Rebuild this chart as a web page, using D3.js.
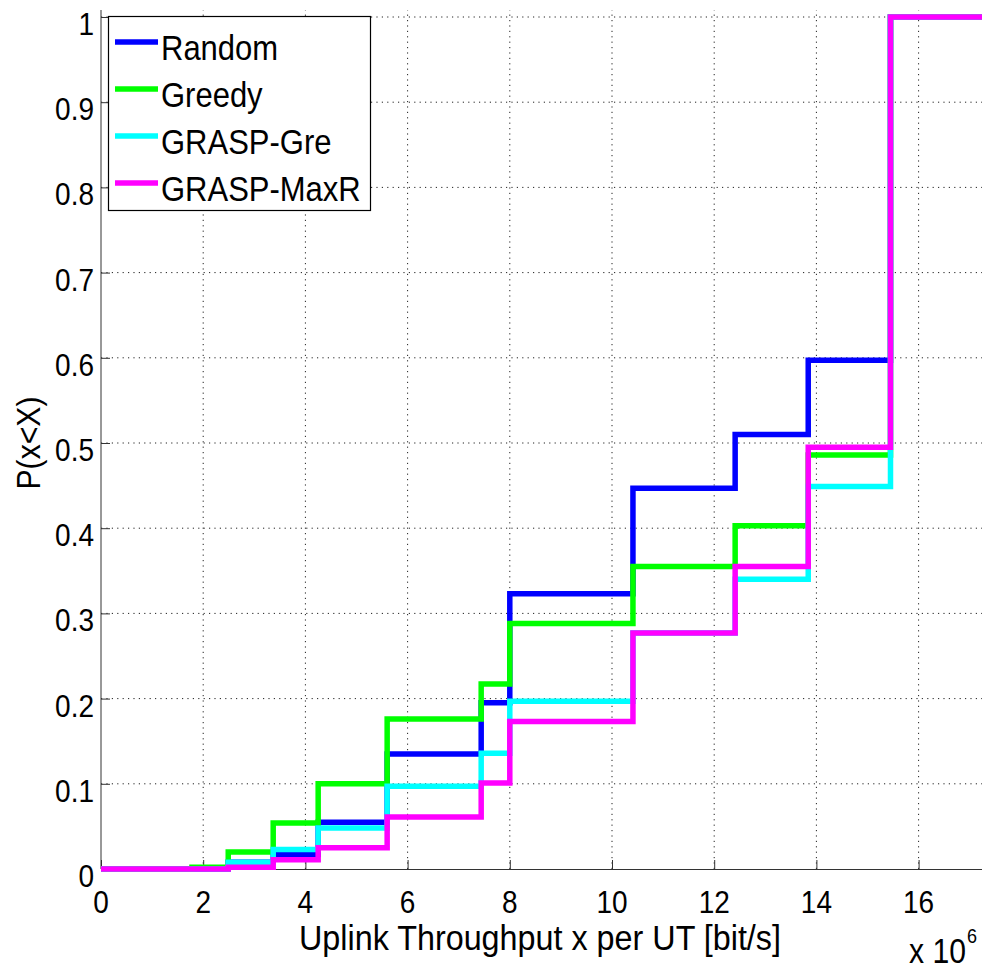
<!DOCTYPE html>
<html><head><meta charset="utf-8">
<script src="https://cdn.jsdelivr.net/npm/d3@7"></script>
<style>
html,body{margin:0;padding:0;background:#fff;}
svg{display:block;}
text{font-family:"Liberation Sans",Arial,Helvetica,sans-serif;fill:#000;}
</style></head>
<body>
<svg id="chart" width="982" height="969"></svg>
<script>
// ---- data ----
const stepX = [0, 1.78, 2.49, 3.37, 4.25, 5.6, 7.44, 8.0, 10.41, 12.41, 13.84, 15.45];
const seriesNames = ["Random", "Greedy", "GRASP-Gre", "GRASP-MaxR"];
const randomVals  = [0, 0.0, 0.008, 0.017, 0.055, 0.135, 0.195, 0.323, 0.447, 0.510, 0.597, 1.0];
const greedyVals  = [0, 0.002, 0.020, 0.054, 0.100, 0.176, 0.217, 0.288, 0.355, 0.403, 0.486, 1.0];
const graspGreVals= [0, 0.0, 0.008, 0.023, 0.048, 0.097, 0.136, 0.197, 0.277, 0.340, 0.449, 1.0];
const graspMaxVals= [0, 0.0, 0.002, 0.011, 0.025, 0.061, 0.101, 0.173, 0.277, 0.355, 0.495, 1.0];
const seriesColors = ["#0000ff", "#00ff00", "#00ffff", "#ff00ff"];
const xTicks = [0, 2, 4, 6, 8, 10, 12, 14, 16];
const yTicks = [0, 0.1, 0.2, 0.3, 0.4, 0.5, 0.6, 0.7, 0.8, 0.9, 1];
const yTickLabels = ["0", "0.1", "0.2", "0.3", "0.4", "0.5", "0.6", "0.7", "0.8", "0.9", "1"];
const xMax = 17.25;

// ---- chart ----
(function () {
const svg = d3.select("#chart");
const plotL = 101, plotB = 869, plotT = 10;
const x = d3.scaleLinear().domain([0, xMax]).range([plotL, plotL + 51.1 * xMax]);
const y = d3.scaleLinear().domain([0, 1]).range([plotB, 17]);
const SY = 1.13;

// grid
const grid = svg.append("g").attr("stroke", "#222").attr("stroke-width", 1).attr("stroke-dasharray", "1.2,4.2");
grid.selectAll("line.v").data(xTicks.filter(d => d > 0)).enter().append("line")
  .attr("x1", d => x(d)).attr("x2", d => x(d)).attr("y1", plotB).attr("y2", plotT);
grid.selectAll("line.h").data(yTicks.filter(d => d > 0)).enter().append("line")
  .attr("x1", plotL).attr("x2", 982).attr("y1", d => y(d)).attr("y2", d => y(d));

// axes (ticks inward)
const xAxis = d3.axisBottom(x).tickValues(xTicks).tickSizeInner(-9).tickSizeOuter(0).tickFormat("");
const gx = svg.append("g").attr("transform", `translate(0,${plotB})`).call(xAxis);
gx.select(".domain").attr("stroke", "#333");
gx.selectAll(".tick line").attr("stroke", "#333");
const yAxis = d3.axisLeft(y).tickValues(yTicks).tickSizeInner(-9).tickSizeOuter(0).tickFormat("");
const gy = svg.append("g").attr("transform", `translate(${plotL},0)`).call(yAxis);
gy.select(".domain").remove();
gy.selectAll(".tick line").attr("stroke", "#333");
svg.append("line").attr("x1", plotL).attr("x2", plotL).attr("y1", plotB).attr("y2", plotT).attr("stroke", "#333");

// tick labels
svg.append("g").selectAll("text").data(xTicks).enter().append("text")
  .attr("transform", d => `translate(${x(d)},913) scale(1,${SY})`)
  .attr("text-anchor", "middle").attr("font-size", 28).text(d => d);
svg.append("g").selectAll("text").data(yTicks).enter().append("text")
  .attr("transform", d => `translate(94,${y(d) + 18}) scale(1,${SY})`)
  .attr("text-anchor", "end").attr("font-size", 28).text((d, i) => yTickLabels[i]);

// series
const allVals = [randomVals, greedyVals, graspGreVals, graspMaxVals];
const line = d3.line().x(d => x(d[0])).y(d => y(d[1])).curve(d3.curveStepAfter);
allVals.forEach((vals, i) => {
  const pts = stepX.map((sx, k) => [sx, vals[k]]);
  pts.push([xMax, vals[vals.length - 1]]);
  svg.append("path").datum(pts).attr("d", line)
    .attr("fill", "none").attr("stroke", seriesColors[i]).attr("stroke-width", 5.5)
    .attr("stroke-linejoin", "miter");
});

// axis labels
svg.append("text").attr("transform", `translate(540,950) scale(1,${SY})`)
  .attr("text-anchor", "middle").attr("font-size", 31)
  .attr("textLength", 482).attr("lengthAdjust", "spacingAndGlyphs")
  .text("Uplink Throughput x per UT [bit/s]");
svg.append("text").attr("transform", `translate(40,443) rotate(-90) scale(1,${SY})`)
  .attr("text-anchor", "middle").attr("font-size", 29)
  .attr("textLength", 93).attr("lengthAdjust", "spacingAndGlyphs")
  .text("P(x<X)");
svg.append("text").attr("transform", `translate(909,963) scale(1,${SY})`)
  .attr("font-size", 31).attr("textLength", 57).attr("lengthAdjust", "spacingAndGlyphs").text("x 10");
svg.append("text").attr("transform", `translate(967,943) scale(1,${SY})`)
  .attr("font-size", 18).text("6");

// legend
const lg = svg.append("g");
lg.append("rect").attr("x", 108.5).attr("y", 16.5).attr("width", 262).attr("height", 194)
  .attr("fill", "#fff").attr("stroke", "#000").attr("stroke-width", 1.2);
const rowY = d3.scalePoint().domain(seriesNames).range([42, 183]);
seriesNames.forEach((n, i) => {
  lg.append("line").attr("x1", 115).attr("x2", 158).attr("y1", rowY(n)).attr("y2", rowY(n))
    .attr("stroke", seriesColors[i]).attr("stroke-width", 5.5);
  lg.append("text").attr("transform", `translate(161,${rowY(n) + 18}) scale(1,${SY})`)
    .attr("font-size", 31).text(n);
});
})();
</script>
</body></html>
